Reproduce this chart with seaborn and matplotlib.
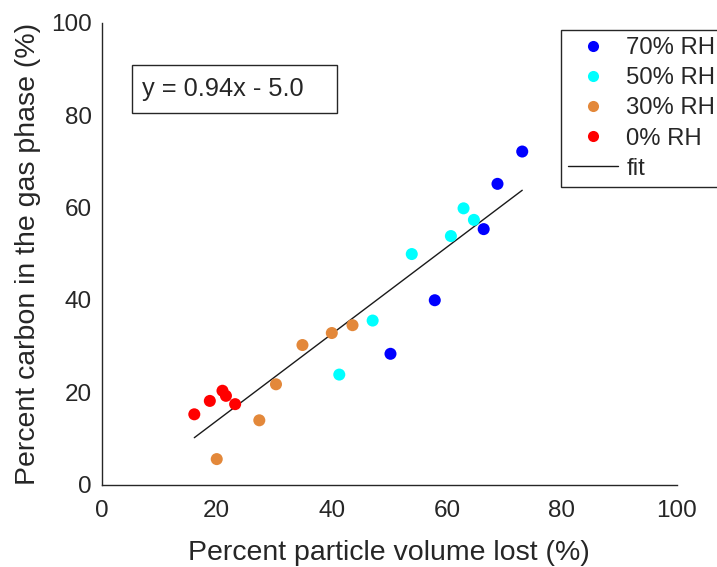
import matplotlib
matplotlib.use("Agg")
import matplotlib.pyplot as plt
import matplotlib.patches as mpatches
from matplotlib.lines import Line2D
import numpy as np
import pandas as pd
import seaborn as sns

# Measurements grouped by relative humidity
x_70 = [50.2, 57.9, 66.4, 68.8, 73.1]
y_70 = [28.3, 39.9, 55.3, 65.1, 72.1]

x_50 = [41.3, 47.1, 53.9, 60.7, 62.9, 64.7]
y_50 = [23.8, 35.5, 49.9, 53.8, 59.8, 57.3]

x_30 = [20.0, 27.4, 30.3, 34.9, 40.0, 43.6]
y_30 = [5.5, 13.9, 21.7, 30.2, 32.8, 34.5]

x_0 = [16.1, 18.8, 21.0, 21.6, 23.2]
y_0 = [15.2, 18.1, 20.3, 19.2, 17.4]

groups = ["70% RH", "50% RH", "30% RH", "0% RH"]
colors = ["#0000FF", "#00FFFF", "#E3883A", "#FF0000"]

# Linear fit coefficients
slope = 0.94
intercept = -5.0

df = pd.concat([
    pd.DataFrame({"x": xs, "y": ys, "group": g})
    for xs, ys, g in zip([x_70, x_50, x_30, x_0], [y_70, y_50, y_30, y_0], groups)
], ignore_index=True)

sns.set_theme(style="white")
plt.rcParams["font.family"] = ["Liberation Sans", "DejaVu Sans"]
ink = "#262626"

W, H = 717, 567
fig = plt.figure(figsize=(W / 100, H / 100), dpi=100)
ax = fig.add_axes([0.1418, 0.1455, 0.9442 - 0.1418, 0.96 - 0.1455])

sns.scatterplot(data=df, x="x", y="y", hue="group", hue_order=groups,
                palette=colors, s=75, edgecolor="none", linewidth=0,
                ax=ax, legend=False, zorder=3)

fx = np.array([df["x"].min(), df["x"].max()])
ax.plot(fx, slope * fx + intercept, color="#1a1a1a", lw=1.0, zorder=2)

ax.set_xlim(0, 100)
ax.set_ylim(0, 100)
ax.set_xticks([0, 20, 40, 60, 80, 100])
ax.set_yticks([0, 20, 40, 60, 80, 100])
ax.tick_params(direction="in", length=5, width=1, colors=ink,
               labelsize=17.5, labelcolor=ink)
ax.tick_params(axis="x", pad=11)
ax.tick_params(axis="y", pad=7)
for side in ["top", "right"]:
    ax.spines[side].set_visible(False)
for side in ["left", "bottom"]:
    ax.spines[side].set_color(ink)
    ax.spines[side].set_linewidth(1)

ax.set_xlabel("Percent particle volume lost (%)", fontsize=20.5, color=ink)
ax.xaxis.label.set_va("baseline")
ax.xaxis.set_label_coords(0.5, -0.1635)
ax.set_ylabel("Percent carbon in the gas phase (%)", fontsize=20.5, color=ink)
ax.yaxis.set_label_coords(-0.1055, 0.5)

# Equation box
rect = mpatches.Rectangle((131.7 / W, 1 - 112.5 / H), (336.7 - 131.7) / W, (112.5 - 65) / H,
                          transform=fig.transFigure, facecolor="white",
                          edgecolor=ink, lw=1, zorder=5)
fig.patches.append(rect)
fig.text(142.5 / W, 1 - 89 / H, f"y = {slope:.2f}x - {abs(intercept):.1f}",
         fontsize=18.3, color=ink, va="center", ha="left", zorder=6)

# Legend
handles = [Line2D([], [], ls="none", marker="o", markersize=8,
                  markerfacecolor=c, markeredgecolor="none") for c in colors]
handles.append(Line2D([], [], color="#1a1a1a", lw=1.0))
leg = fig.legend(handles, groups + ["fit"], loc="upper left",
                 bbox_to_anchor=(560.7 / W, 1 - 30 / H), fontsize=17.2,
                 frameon=True, fancybox=False, framealpha=1,
                 edgecolor=ink, handlelength=2.1, handletextpad=0.34,
                 borderpad=0.3, labelspacing=0.34, borderaxespad=0)
leg.get_frame().set_linewidth(1)
for t in leg.get_texts():
    t.set_color(ink)

fig.savefig("out.png", dpi=100, facecolor="white")
